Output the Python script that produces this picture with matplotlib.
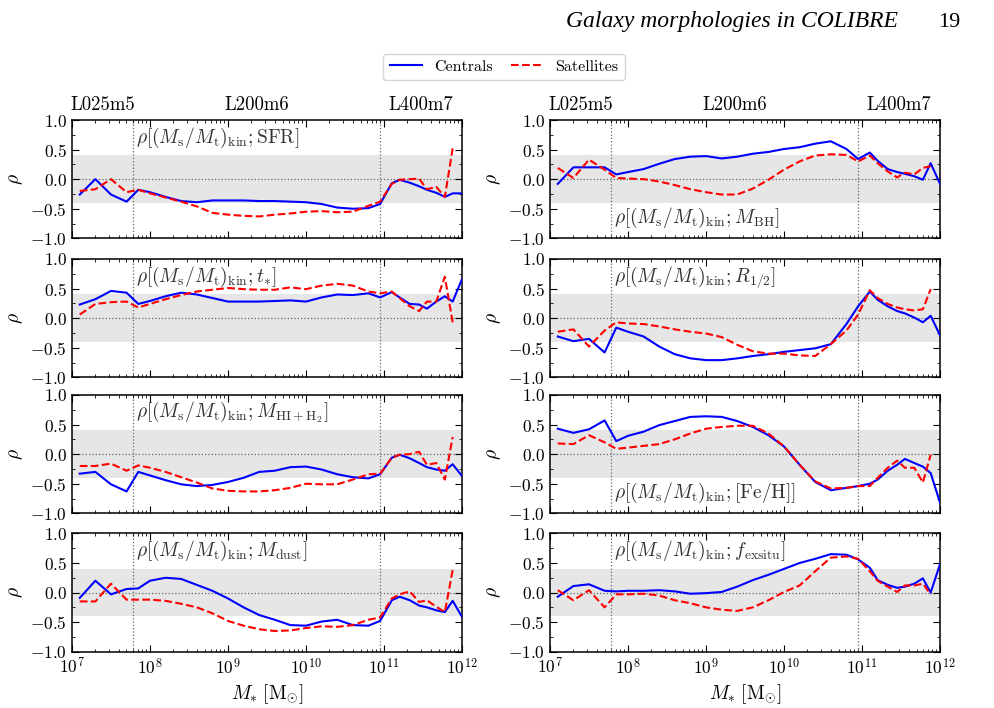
import matplotlib
matplotlib.use("Agg")
import matplotlib.pyplot as plt
import matplotlib.transforms as mtransforms
import numpy as np

plt.rcParams['font.family'] = 'serif'
plt.rcParams['font.serif'] = ['cmr10']
plt.rcParams['mathtext.fontset'] = 'cm'
plt.rcParams['axes.formatter.use_mathtext'] = True
plt.rcParams['font.size'] = 12.5
plt.rcParams['axes.linewidth'] = 1.1

nan = np.nan

# log10 stellar mass of the bins
log_mass = [7.1, 7.3, 7.5, 7.7, 7.85, 8.0, 8.2, 8.4, 8.6, 8.8, 9.0, 9.2, 9.4, 9.6, 9.8,
            10.0, 10.2, 10.4, 10.6, 10.8, 10.95, 11.1, 11.2, 11.33, 11.45, 11.55,
            11.67, 11.78, 11.88, 12.0]

# Spearman rho, centrals / satellites
cen_sfr = [-0.26, 0.0, -0.26, -0.38, -0.18, -0.22, -0.30, -0.37, -0.39, -0.36, -0.36, -0.36, -0.37, -0.37, -0.38,
           -0.39, -0.42, -0.48, -0.50, -0.49, -0.42, -0.07, -0.01, -0.06, -0.12, -0.18, -0.23, -0.30, -0.24, -0.24]
sat_sfr = [-0.20, -0.17, 0.0, -0.22, -0.18, -0.24, -0.31, -0.38, -0.46, -0.57, -0.60, -0.62, -0.63, -0.60, -0.58,
           -0.55, -0.54, -0.56, -0.55, -0.45, -0.38, -0.08, -0.01, 0.0, 0.01, -0.17, -0.13, -0.30, 0.52, nan]

cen_bh = [-0.08, 0.20, 0.20, 0.20, 0.08, 0.12, 0.17, 0.26, 0.34, 0.38, 0.39, 0.35, 0.38, 0.43, 0.46,
          0.51, 0.54, 0.60, 0.64, 0.51, 0.34, 0.45, 0.31, 0.17, 0.12, 0.09, 0.05, -0.01, 0.27, -0.08]
sat_bh = [0.19, 0.02, 0.33, 0.16, 0.02, 0.01, 0.0, -0.04, -0.10, -0.17, -0.22, -0.26, -0.26, -0.16, -0.01,
          0.16, 0.30, 0.40, 0.42, 0.41, 0.30, 0.40, 0.27, 0.13, 0.03, 0.11, 0.08, 0.19, 0.22, nan]

cen_age = [0.23, 0.32, 0.46, 0.43, 0.24, 0.29, 0.37, 0.43, 0.40, 0.34, 0.28, 0.28, 0.28, 0.29, 0.30,
           0.28, 0.35, 0.40, 0.39, 0.42, 0.35, 0.44, 0.35, 0.24, 0.23, 0.16, 0.28, 0.37, 0.28, 0.66]
sat_age = [0.06, 0.24, 0.27, 0.28, 0.18, 0.24, 0.32, 0.39, 0.45, 0.48, 0.51, 0.49, 0.48, 0.48, 0.52,
           0.49, 0.55, 0.58, 0.55, 0.45, 0.42, 0.45, 0.34, 0.20, 0.12, 0.28, 0.28, 0.70, -0.07, nan]

cen_r12 = [-0.31, -0.39, -0.35, -0.58, -0.16, -0.23, -0.31, -0.48, -0.61, -0.68, -0.71, -0.71, -0.68, -0.64, -0.61,
           -0.57, -0.54, -0.51, -0.44, -0.10, 0.20, 0.45, 0.31, 0.20, 0.12, 0.08, 0.01, -0.07, 0.04, -0.29]
sat_r12 = [-0.23, -0.19, -0.48, -0.21, -0.07, -0.09, -0.10, -0.14, -0.19, -0.23, -0.26, -0.32, -0.45, -0.56, -0.60,
           -0.60, -0.63, -0.64, -0.44, -0.21, 0.06, 0.47, 0.34, 0.24, 0.18, 0.15, 0.13, 0.15, 0.49, nan]

cen_gas = [-0.33, -0.30, -0.51, -0.63, -0.30, -0.36, -0.44, -0.51, -0.54, -0.52, -0.47, -0.40, -0.30, -0.28, -0.22,
           -0.21, -0.26, -0.34, -0.39, -0.41, -0.34, -0.06, -0.01, -0.07, -0.15, -0.22, -0.26, -0.28, -0.17, -0.37]
sat_gas = [-0.20, -0.20, -0.16, -0.28, -0.19, -0.23, -0.30, -0.39, -0.48, -0.58, -0.62, -0.63, -0.63, -0.61, -0.57,
           -0.50, -0.51, -0.51, -0.43, -0.34, -0.33, -0.06, -0.01, 0.0, 0.04, -0.18, -0.15, -0.43, 0.29, nan]

cen_feh = [0.43, 0.36, 0.42, 0.57, 0.22, 0.31, 0.38, 0.49, 0.56, 0.63, 0.64, 0.63, 0.56, 0.46, 0.32,
           0.13, -0.18, -0.47, -0.61, -0.57, -0.54, -0.50, -0.43, -0.28, -0.18, -0.08, -0.15, -0.21, -0.32, -0.82]
sat_feh = [0.18, 0.17, 0.32, 0.20, 0.09, 0.11, 0.14, 0.17, 0.25, 0.35, 0.43, 0.46, 0.48, 0.48, 0.35,
           0.13, -0.18, -0.46, -0.58, -0.57, -0.54, -0.54, -0.40, -0.23, -0.11, -0.23, -0.23, -0.48, -0.01, nan]

cen_dust = [-0.09, 0.20, -0.03, 0.06, 0.07, 0.20, 0.25, 0.23, 0.13, 0.03, -0.10, -0.25, -0.38, -0.46, -0.55,
            -0.56, -0.49, -0.46, -0.55, -0.56, -0.48, -0.13, -0.07, -0.13, -0.22, -0.25, -0.30, -0.33, -0.14, -0.41]
sat_dust = [-0.15, -0.15, 0.15, -0.12, -0.12, -0.12, -0.14, -0.19, -0.25, -0.35, -0.48, -0.56, -0.62, -0.65, -0.64,
            -0.60, -0.57, -0.58, -0.55, -0.46, -0.42, -0.10, -0.03, 0.02, -0.16, -0.13, -0.24, -0.33, 0.38, nan]

cen_exs = [-0.07, 0.11, 0.14, 0.03, 0.02, 0.03, 0.03, 0.04, 0.02, -0.02, -0.01, 0.01, 0.10, 0.21, 0.30,
           0.40, 0.50, 0.57, 0.65, 0.64, 0.56, 0.42, 0.21, 0.13, 0.08, 0.10, 0.15, 0.24, 0.0, 0.48]
sat_exs = [0.04, -0.13, 0.04, -0.25, -0.03, -0.03, -0.02, -0.05, -0.13, -0.18, -0.25, -0.29, -0.31, -0.25, -0.13,
           0.01, 0.12, 0.36, 0.59, 0.61, 0.57, 0.36, 0.20, 0.10, 0.01, 0.12, 0.12, 0.15, -0.03, nan]

labels = [r'$\rho[(M_{\rm s}/M_{\rm t})_{\rm kin};\mathrm{SFR}]$',
          r'$\rho[(M_{\rm s}/M_{\rm t})_{\rm kin};M_{\rm BH}]$',
          r'$\rho[(M_{\rm s}/M_{\rm t})_{\rm kin};t_{*}]$',
          r'$\rho[(M_{\rm s}/M_{\rm t})_{\rm kin};R_{1/2}]$',
          r'$\rho[(M_{\rm s}/M_{\rm t})_{\rm kin};M_{\rm HI+H_2}]$',
          r'$\rho[(M_{\rm s}/M_{\rm t})_{\rm kin};[\mathrm{Fe/H}]]$',
          r'$\rho[(M_{\rm s}/M_{\rm t})_{\rm kin};M_{\rm dust}]$',
          r'$\rho[(M_{\rm s}/M_{\rm t})_{\rm kin};f_{\rm exsitu}]$']
label_at_bottom = [False, True, False, False, False, True, False, False]

centrals = [cen_sfr, cen_bh, cen_age, cen_r12, cen_gas, cen_feh, cen_dust, cen_exs]
satellites = [sat_sfr, sat_bh, sat_age, sat_r12, sat_gas, sat_feh, sat_dust, sat_exs]

sims = ['L025m5', 'L200m6', 'L400m7']
sim_edges = [1e7, 6e7, 9e10, 1e12]

mass = 10 ** np.array(log_mass)

fig = plt.figure(figsize=(9.94, 7.08), dpi=100)
lefts = [0.0724, 0.5533]
bottoms = [0.6634, 0.4671, 0.2750, 0.0795]
w, h = 0.3924, 0.1671

for i in range(8):
    row, col = i // 2, i % 2
    ax = fig.add_axes([lefts[col], bottoms[row], w, h])
    ax.axhspan(-0.4, 0.4, color='0.9', lw=0, zorder=0)
    ax.axhline(0, color='0.4', ls=':', lw=0.9, zorder=1)
    for xe in sim_edges[1:3]:
        ax.axvline(xe, color='0.4', ls=':', lw=0.9, zorder=1)
    l1, = ax.plot(mass, centrals[i], color='blue', lw=1.5, label='Centrals', zorder=3)
    l2, = ax.plot(mass, satellites[i], color='red', ls='--', lw=1.5, label='Satellites', zorder=3)
    ax.set_xscale('log')
    ax.set_xlim(1e7, 1e12)
    ax.set_ylim(-1, 1)
    ax.set_yticks([-1, -0.5, 0, 0.5, 1])
    ax.set_yticks(np.arange(-1, 1.01, 0.25), minor=True)
    ax.tick_params(which='both', direction='in', top=True, right=True)
    ax.tick_params(which='major', length=5)
    ax.tick_params(which='minor', length=2.5)
    ax.set_ylabel(r'$\rho$', fontsize=14)
    if row < 3:
        ax.set_xticklabels([])
    else:
        ax.set_xlabel(r'$M_{*}\;[\mathrm{M_{\odot}}]$', fontsize=14)
    ax.text(6.6e7, -0.65 if label_at_bottom[i] else 0.70, labels[i], fontsize=14,
            color='0.2', va='center', ha='left')
    if row == 0:
        trans = mtransforms.blended_transform_factory(ax.transData, ax.transAxes)
        for k, name in enumerate(sims):
            xc = np.sqrt(sim_edges[k] * sim_edges[k + 1])
            ax.text(xc, 1.05, name, transform=trans, ha='center', va='bottom', fontsize=13.5)

fig.legend([l1, l2], ['Centrals', 'Satellites'], loc='center', ncol=2,
           bbox_to_anchor=(0.507, 1 - 67 / 708), fontsize=11.5, handlelength=2.0,
           columnspacing=1.1, frameon=True, fancybox=True, edgecolor='0.8')

fig.text(0.903, 0.985, 'Galaxy morphologies in COLIBRE', ha='right', va='top',
         family='Liberation Serif', style='italic', fontsize=17)
fig.text(0.966, 0.982, '19', ha='right', va='top', family='Liberation Serif', fontsize=16)

fig.savefig('out.png', dpi=100)
